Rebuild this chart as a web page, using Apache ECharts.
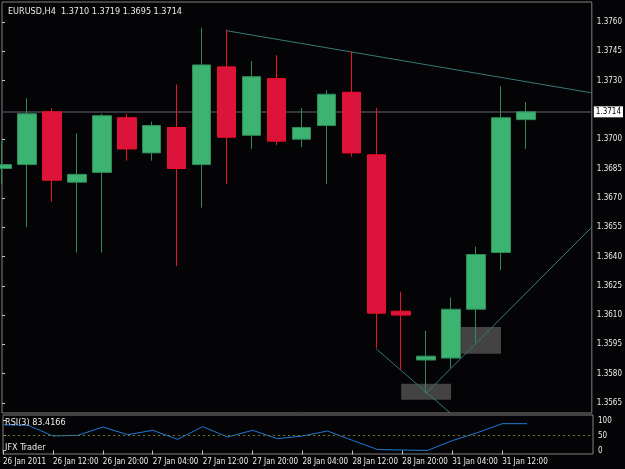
<!DOCTYPE html>
<html>
<head>
<meta charset="utf-8">
<script src="https://cdn.jsdelivr.net/npm/echarts@6/dist/echarts.min.js"></script>
<style>
html,body{margin:0;padding:0;background:#040406;}
#chart{width:625px;height:469px;}
</style>
</head>
<body>
<div id="chart"></div>
<script>
// ---- Data (EURUSD H4, 26-31 Jan 2011) ----
const candleTimes = ['26 Jan 04:00','26 Jan 08:00','26 Jan 12:00','26 Jan 16:00','26 Jan 20:00','27 Jan 00:00',
  '27 Jan 04:00','27 Jan 08:00','27 Jan 12:00','27 Jan 16:00','27 Jan 20:00','28 Jan 00:00',
  '28 Jan 04:00','28 Jan 08:00','28 Jan 12:00','28 Jan 16:00','28 Jan 20:00','31 Jan 00:00',
  '31 Jan 04:00','31 Jan 08:00','31 Jan 12:00','31 Jan 16:00'];
const opens  = [1.3685,1.3687,1.3714,1.3678,1.3683,1.3711,1.3693,1.3706,1.3687,1.3737,1.3702,1.3731,1.3700,1.3707,1.3724,1.3692,1.3612,1.3587,1.3588,1.3613,1.3642,1.3710];
const closes = [1.3687,1.3713,1.3679,1.3682,1.3712,1.3695,1.3707,1.3685,1.3738,1.3701,1.3732,1.3699,1.3706,1.3723,1.3693,1.3611,1.3610,1.3589,1.3613,1.3641,1.3711,1.3714];
const lows   = [1.3677,1.3655,1.3668,1.3642,1.3642,1.3689,1.3689,1.3635,1.3665,1.3677,1.3695,1.3697,1.3696,1.3677,1.3691,1.3593,1.3582,1.3570,1.3583,1.3596,1.3633,1.3695];
const highs  = [1.3699,1.3721,1.3716,1.3703,1.3713,1.3713,1.3709,1.3728,1.3757,1.3756,1.3740,1.3743,1.3716,1.3725,1.3745,1.3716,1.3622,1.3602,1.3619,1.3645,1.3727,1.3719];
const rsiValues = [86,85,48.7,51,78.9,53,67.8,37.6,80,45.3,67.8,39.6,48.7,65.4,34.2,3.4,1.7,0,33,59.7,90,90];

const priceTicks = [1.3565,1.3580,1.3595,1.3610,1.3625,1.3640,1.3655,1.3670,1.3685,1.3700,1.3730,1.3745,1.3760];
const rsiTicks = [0,50,100];
const timeTickIndex = [0,2,4,6,8,10,12,14,16,18,20];
const timeTickLabels = ['26 Jan 2011','26 Jan 12:00','26 Jan 20:00','27 Jan 04:00','27 Jan 12:00','27 Jan 20:00',
  '28 Jan 04:00','28 Jan 12:00','28 Jan 20:00','31 Jan 04:00','31 Jan 12:00'];

const bidPrice = 1.3714;
const headerText = 'EURUSD,H4  1.3710 1.3719 1.3695 1.3714';
const rsiText = 'RSI(3) 83.4166';
const brokerText = 'IFX Trader';

// annotations (candle index, price)
const resistanceLine = [[9, 1.37555], [23.64, 1.37237]];
const supportLineDown = [[15, 1.35927], [18, 1.35595]];
const supportLineUp = [[17, 1.35700], [23.64, 1.36550]];
const boxes = [
  [[16, 1.35749], [18, 1.35667]],
  [[18.4, 1.36039], [20, 1.35902]]
];

const xMax = 23.64;
const priceMin = 1.35599, priceMax = 1.37702;
const rsiMin = -11.7, rsiMax = 119.1;

const FONT = "'Liberation Sans Narrow','DejaVu Sans Condensed','Liberation Sans',sans-serif";
const TXT = '#ececec';
const BORDER = '#808080';

const candleData = opens.map((o, i) => [i, o, closes[i], lows[i], highs[i]]);
const rsiData = rsiValues.map((v, i) => [i, v]);

const chart = echarts.init(document.getElementById('chart'), null, {renderer: 'canvas'});
chart.setOption({
  animation: false,
  backgroundColor: '#040406',
  title: {
    text: headerText, left: 3, top: 2,
    textStyle: {color: TXT, fontSize: 9, fontWeight: 'normal', fontFamily: FONT}
  },
  grid: [
    {left: 2, right: 32, top: 2, height: 411, show: true, borderColor: BORDER, borderWidth: 1, backgroundColor: 'transparent'},
    {left: 2, right: 32, top: 415, height: 39, show: true, borderColor: BORDER, borderWidth: 1, backgroundColor: 'transparent'}
  ],
  xAxis: [
    {type: 'value', gridIndex: 0, min: 0, max: xMax, axisLine: {show: false}, axisTick: {show: false},
     axisLabel: {show: false}, splitLine: {show: false}},
    {type: 'value', gridIndex: 1, min: 0, max: xMax,
     axisLine: {show: false},
     axisTick: {show: true, customValues: timeTickIndex, length: 4, lineStyle: {color: '#c8c8c8'}},
     axisLabel: {show: true, customValues: timeTickIndex, align: 'left', margin: 4, color: TXT, fontSize: 8, fontFamily: FONT,
       formatter: v => { const k = timeTickIndex.indexOf(Math.round(v)); return k >= 0 ? timeTickLabels[k] : ''; }},
     splitLine: {show: false}}
  ],
  yAxis: [
    {type: 'value', gridIndex: 0, position: 'right', min: priceMin, max: priceMax, scale: true,
     axisLine: {show: false},
     axisTick: {show: true, customValues: priceTicks, length: 3, lineStyle: {color: '#c8c8c8'}},
     axisLabel: {show: true, customValues: priceTicks, margin: 5, color: TXT, fontSize: 8, fontFamily: FONT,
       formatter: v => v.toFixed(4)},
     splitLine: {show: false}},
    {type: 'value', gridIndex: 1, position: 'right', min: rsiMin, max: rsiMax,
     axisLine: {show: false},
     axisTick: {show: true, customValues: rsiTicks, length: 3, lineStyle: {color: '#c8c8c8'}},
     axisLabel: {show: true, customValues: rsiTicks, margin: 5, color: TXT, fontSize: 8, fontFamily: FONT},
     splitLine: {show: false}}
  ],
  series: [
    {
      type: 'candlestick', xAxisIndex: 0, yAxisIndex: 0, data: candleData, barWidth: 19, clip: true, z: 3,
      itemStyle: {color: '#3CB371', color0: '#DC143C', borderColor: '#2E8B57', borderColor0: '#EE1028', borderWidth: 1},
      markLine: {
        silent: true, symbol: ['none', 'none'], z: 1, precision: 4,
        lineStyle: {color: '#46464e', width: 1.5, type: 'solid'},
        label: {show: true, position: 'end', distance: 2, formatter: bidPrice.toFixed(4), color: '#000', backgroundColor: '#ffffff',
          padding: [2, 2, 1, 2], fontSize: 8, fontFamily: FONT},
        data: [{yAxis: bidPrice}]
      },
      markArea: {
        silent: true, z: 1, precision: 5,
        itemStyle: {color: 'rgba(120,120,120,0.55)'},
        data: boxes.map(b => [{coord: b[0]}, {coord: b[1]}])
      }
    },
    {type: 'line', xAxisIndex: 0, yAxisIndex: 0, data: resistanceLine, symbol: 'none', clip: true, z: 2,
     lineStyle: {color: '#3a7878', width: 1}},
    {type: 'line', xAxisIndex: 0, yAxisIndex: 0, data: supportLineDown, symbol: 'none', clip: true, z: 2,
     lineStyle: {color: '#3a7878', width: 1}},
    {type: 'line', xAxisIndex: 0, yAxisIndex: 0, data: supportLineUp, symbol: 'none', clip: true, z: 2,
     lineStyle: {color: '#3a7878', width: 1}},
    {type: 'line', xAxisIndex: 1, yAxisIndex: 1, data: rsiData, symbol: 'none', clip: true, z: 3,
     lineStyle: {color: '#1e7ad6', width: 1},
     markLine: {silent: true, symbol: ['none', 'none'], label: {show: false},
       lineStyle: {color: '#6b7d1a', type: [2, 3], width: 1}, data: [{yAxis: 50}]}}
  ],
  graphic: [
    {type: 'text', left: 5, top: 418, z: 10, style: {text: rsiText, fill: TXT, fontSize: 9, fontFamily: FONT}},
    {type: 'text', left: 5, top: 443, z: 10, style: {text: brokerText, fill: TXT, fontSize: 9, fontFamily: FONT}}
  ]
});
</script>
</body>
</html>
